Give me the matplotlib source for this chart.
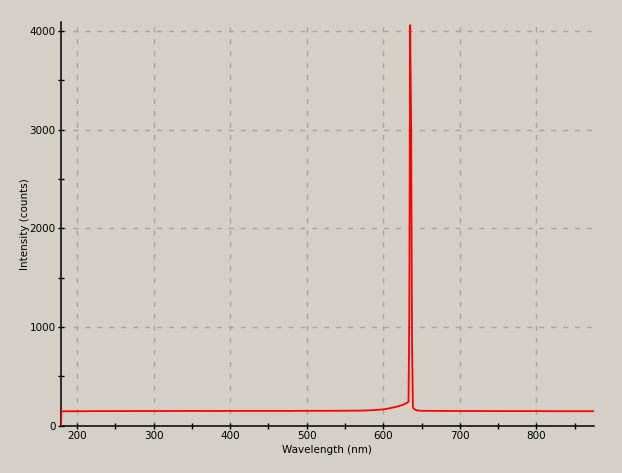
#!/usr/bin/env python3
"""Emission spectrum: intensity vs wavelength, single sharp line near 635 nm."""

import matplotlib
matplotlib.use("Agg")
import matplotlib.pyplot as plt
from matplotlib.ticker import MultipleLocator

# ---------------------------------------------------------------------------
# Data
# ---------------------------------------------------------------------------
wavelength_nm = [178.9, 179.4, 200, 225, 250, 275, 300, 325, 350, 375, 400,
                 425, 450, 475, 500, 525, 550, 570, 585, 595, 600, 605, 610,
                 615, 620, 625, 630, 633.0, 634.0, 635.2, 636.5, 637.6, 638.8,
                 640, 642, 645, 650, 675, 700, 725, 750, 775, 800, 825, 850,
                 875]
intensity_counts = [0, 144, 145, 146, 146, 147, 147, 147, 148, 147, 148,
                    148, 148, 148, 149, 149, 150, 151, 155, 160, 164, 170, 178,
                    186, 196, 208, 225, 241, 1161, 4060, 2963, 840, 181,
                    170, 160, 152, 149, 148, 147, 147, 146, 146, 146, 145, 145,
                    145]

x_label = "Wavelength (nm)"
y_label = "Intensity (counts)"

BG = "#d4d0c8"

# ---------------------------------------------------------------------------
# Plot
# ---------------------------------------------------------------------------
fig = plt.figure(figsize=(6.22, 4.73), dpi=100, facecolor=BG)
ax = fig.add_axes([0.0981, 0.1004, 0.8564, 0.8531], facecolor=BG)

ax.plot(wavelength_nm, intensity_counts, color="#ff0000", lw=1.3, zorder=3)

ax.set_xlim(178.9, 875)
ax.set_ylim(0, 4092)

ax.xaxis.set_major_locator(MultipleLocator(100))
ax.xaxis.set_minor_locator(MultipleLocator(50))
ax.yaxis.set_major_locator(MultipleLocator(1000))
ax.yaxis.set_minor_locator(MultipleLocator(500))

for side in ("top", "right"):
    ax.spines[side].set_visible(False)
for side in ("left", "bottom"):
    ax.spines[side].set_linewidth(1.1)
    ax.spines[side].set_color("black")

ax.tick_params(which="both", direction="inout", length=5.0, width=1.0,
               color="black", labelsize=7.5, pad=1.5)
ax.tick_params(which="minor", length=4.5)

ax.grid(which="major", color="#a4a4a4", lw=1.0, dashes=(3.6, 5))
ax.set_axisbelow(True)

ax.set_xlabel(x_label, fontsize=7.5, labelpad=3)
ax.set_ylabel(y_label, fontsize=7.5)
# the y label sits close to the tick labels in the original
ax.yaxis.set_label_coords(-0.058, 0.5)

fig.savefig("out.png", dpi=100, facecolor=BG)
plt.close(fig)
